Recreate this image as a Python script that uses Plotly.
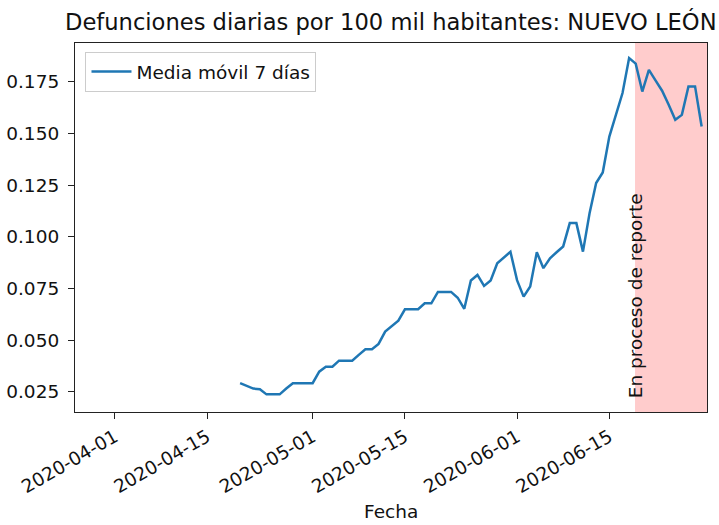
import pandas as pd
import plotly.graph_objects as go

dates = pd.date_range("2020-04-20", "2020-06-29", freq="D")
media_movil = [
    0.0291, 0.0278, 0.0265, 0.0262, 0.0237, 0.0237, 0.0237, 0.0265, 0.0291, 0.0291,
    0.0291, 0.0291, 0.0347, 0.0371, 0.0371, 0.0400, 0.0400, 0.0400, 0.0428, 0.0455,
    0.0455, 0.0481, 0.0541, 0.0568, 0.0594, 0.0649, 0.0649, 0.0649, 0.0678, 0.0678,
    0.0733, 0.0733, 0.0733, 0.0705, 0.0651, 0.0788, 0.0815, 0.0762, 0.0788, 0.0872,
    0.0899, 0.0927, 0.0790, 0.0710, 0.0759, 0.0925, 0.0848, 0.0896, 0.0925, 0.0953,
    0.1066, 0.1066, 0.0928, 0.1114, 0.1260, 0.1311, 0.1485, 0.1590, 0.1696, 0.1865,
    0.1838, 0.1703, 0.1808, 0.1757, 0.1707, 0.1639, 0.1566, 0.1590, 0.1728, 0.1728,
    0.1534, 0.1340,
]
x_ticks = ["2020-04-01", "2020-04-15", "2020-05-01", "2020-05-15", "2020-06-01", "2020-06-15"]
y_ticks = [0.025, 0.050, 0.075, 0.100, 0.125, 0.150, 0.175]
x_range = ["2020-03-25 23:00", "2020-06-29 19:30"]
y_range = [0.01516, 0.1938]
shade_start = "2020-06-18 21:30"

FONT = "DejaVu Sans"
fig = go.Figure()
fig.add_trace(go.Scatter(x=dates, y=media_movil, mode="lines", name="Media móvil 7 días",
                         line=dict(color="#1f77b4", width=2.5)))

fig.add_shape(type="rect", xref="x", yref="paper", x0=shade_start, x1=x_range[1], y0=0, y1=1,
              fillcolor="rgba(255,0,0,0.2)", line=dict(width=0), layer="below")

fig.add_annotation(text="En proceso de reporte", x=shade_start, xref="x", y=0.315, yref="paper",
                   textangle=-90, showarrow=False, xanchor="left", yanchor="middle", xshift=-12,
                   font=dict(family=FONT, size=18.5, color="#111"))
fig.add_annotation(text="Fecha", x=0.5, xref="paper", y=(412 - 511) / 368.7, yref="paper",
                   showarrow=False, xanchor="center", yanchor="middle",
                   font=dict(family=FONT, size=18.5, color="#111"))

fig.update_layout(
    template="none",
    width=719, height=525,
    margin=dict(l=74.5, r=12, t=43.3, b=113, pad=0, autoexpand=False),
    paper_bgcolor="white", plot_bgcolor="white",
    font=dict(family=FONT, size=18.5, color="#111"),
    title=dict(text="Defunciones diarias por 100 mil habitantes: NUEVO LEÓN",
               x=390.8 / 719, xanchor="center", y=1 - 22 / 525, yanchor="middle",
               font=dict(family=FONT, size=22.6, color="#111")),
    showlegend=True,
    legend=dict(x=0.0166, y=0.9756, xanchor="left", yanchor="top", itemwidth=40,
                bgcolor="rgba(255,255,255,0.8)", bordercolor="#cccccc", borderwidth=1,
                font=dict(family=FONT, size=18.5, color="#111")),
    xaxis=dict(range=x_range, type="date", tickmode="array", tickvals=x_ticks, ticktext=x_ticks,
               tickangle=-30, automargin=False, showgrid=False, zeroline=False, showline=True,
               mirror=True, linecolor="#222", linewidth=1.2, ticks="outside", ticklen=6,
               tickcolor="#222"),
    yaxis=dict(range=y_range, tickmode="array", tickvals=y_ticks, tickformat=".3f",
               automargin=False, showgrid=False, zeroline=False, showline=True, mirror=True,
               linecolor="#222", linewidth=1.2, ticks="outside", ticklen=6, tickcolor="#222",
               ticklabelstandoff=5),
)
fig.write_html("out.html", config={"displayModeBar": False},
               post_script="document.body.style.margin='0';")
